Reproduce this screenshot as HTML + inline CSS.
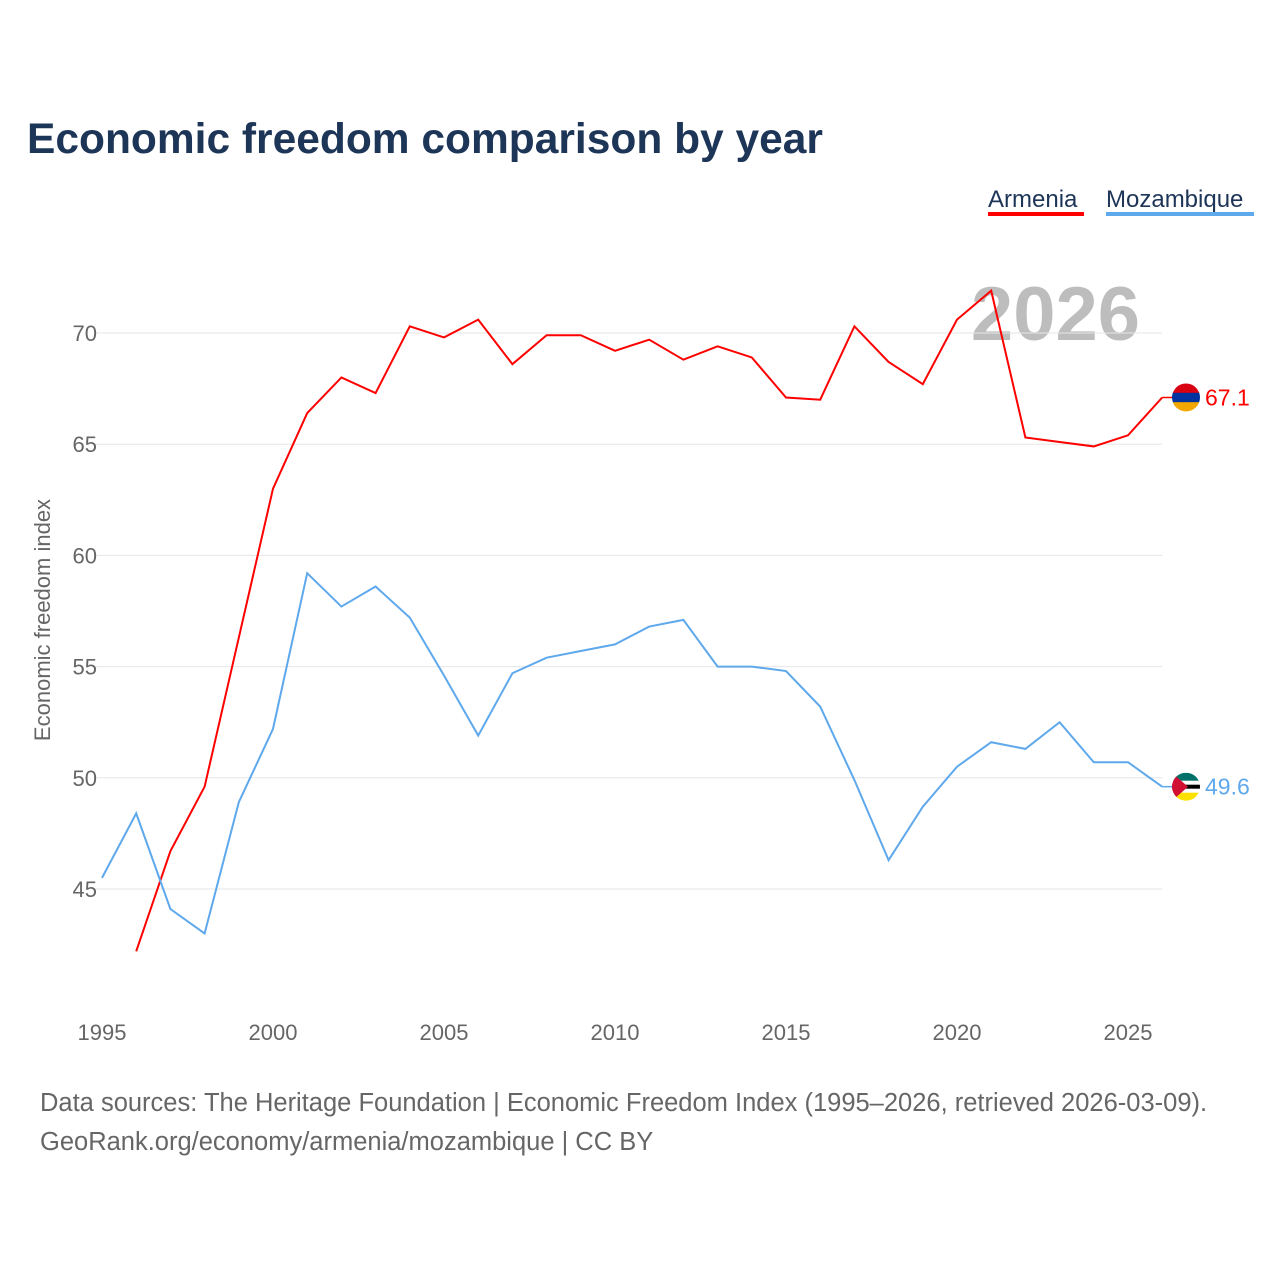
<!DOCTYPE html>
<html><head><meta charset="utf-8"><style>
body{margin:0;background:#fff;font-family:"Liberation Sans",sans-serif}
</style></head><body>
<svg width="1280" height="1280" xmlns="http://www.w3.org/2000/svg">
<defs>
<clipPath id="cA"><circle cx="0" cy="0" r="14"/></clipPath>
</defs>
<text x="27" y="153" font-size="42.5" font-weight="bold" fill="#1d3557">Economic freedom comparison by year</text>
<g>
<text x="988" y="207" font-size="24" fill="#1d3557">Armenia</text>
<rect x="988" y="212" width="96" height="4" fill="#ff0000"/>
<text x="1106" y="207" font-size="24" fill="#1d3557">Mozambique</text>
<rect x="1106" y="212" width="148" height="4" fill="#5ea8ec"/>
</g>
<text x="1140" y="340" font-size="76" font-weight="bold" fill="#bdbdbd" text-anchor="end">2026</text>
<g id="grid"></g><g id="series"></g>
<text transform="translate(50,620) rotate(-90)" font-size="22" fill="#666" text-anchor="middle">Economic freedom index</text>
<text x="40" y="1111" font-size="25.5" fill="#666">Data sources: The Heritage Foundation | Economic Freedom Index (1995–2026, retrieved 2026-03-09).</text>
<text x="40" y="1150" font-size="25.5" fill="#666">GeoRank.org/economy/armenia/mozambique | CC BY</text>
</svg>
<script>
const years=[1995,1996,1997,1998,1999,2000,2001,2002,2003,2004,2005,2006,2007,2008,2009,2010,2011,2012,2013,2014,2015,2016,2017,2018,2019,2020,2021,2022,2023,2024,2025,2026];
const armenia=[null,42.2,46.7,49.6,56.3,63.0,66.4,68.0,67.3,70.3,69.8,70.6,68.6,69.9,69.9,69.2,69.7,68.8,69.4,68.9,67.1,67.0,70.3,68.7,67.7,70.6,71.9,65.3,65.1,64.9,65.4,67.1];
const mozambique=[45.5,48.4,44.1,43.0,48.9,52.2,59.2,57.7,58.6,57.2,54.6,51.9,54.7,55.4,55.7,56.0,56.8,57.1,55.0,55.0,54.8,53.2,49.9,46.3,48.7,50.5,51.6,51.3,52.5,50.7,50.7,49.6];
const yTicks=[45,50,55,60,65,70];
const xTicks=[1995,2000,2005,2010,2015,2020,2025];
const NS="http://www.w3.org/2000/svg";
const x=v=>102+(v-1995)*34.2;
const y=v=>333+(70-v)*22.24;
function mk(t,a,p){const e=document.createElementNS(NS,t);for(const k in a)e.setAttribute(k,a[k]);p.appendChild(e);return e;}
const grid=document.getElementById('grid'),ser=document.getElementById('series');
yTicks.forEach(v=>{
 const l=mk('line',{x1:95,x2:1162,y1:y(v),y2:y(v),stroke:'#e6e6e6','stroke-width':1},grid);
 
 
 const t=mk('text',{x:97,y:y(v)+8,'font-size':22,fill:'#666','text-anchor':'end'},grid);t.textContent=v;
 
 
});
xTicks.forEach(v=>{
 const t=mk('text',{x:x(v),y:1040,'font-size':22,fill:'#666','text-anchor':'middle'},grid);t.textContent=v;
 
 
});
function draw(vals,col,name,lab,stripes,tri){
 let d='';vals.forEach((v,i)=>{if(v==null)return;d+=(d?'L':'M')+x(years[i])+','+y(v);});
 const p=mk('path',{d:d,fill:'none',stroke:col,'stroke-width':2},ser);
 
 
 const lv=vals[vals.length-1],ly=y(lv);
 mk('line',{x1:x(2026),x2:1176,y1:ly,y2:ly,stroke:col,'stroke-width':1.5},ser);
 const g=mk('g',{transform:'translate(1186,'+ly+')','clip-path':'url(#cA)'},ser);
 
 
 const h=28/stripes.length;
 stripes.forEach((c,i)=>mk('rect',{x:-14,y:-14+i*h,width:28,height:h+0.5,fill:c},g));
 if(tri)mk('path',{d:'M-14,-14L2,0L-14,14Z',fill:'#d21034'},g);
 const t=mk('text',{x:1205,y:ly+8,'font-size':23,fill:col},ser);t.textContent=lab;
 
 
}
draw(armenia,'#ff0000','armenia','67.1',['#d90012','#0033a0','#f2a800'],false);
draw(mozambique,'#5ea8ec','mozambique','49.6',['#007168','#007168','#fff','#000','#fff','#fce100','#fce100'],true);
</script>
</body></html>
